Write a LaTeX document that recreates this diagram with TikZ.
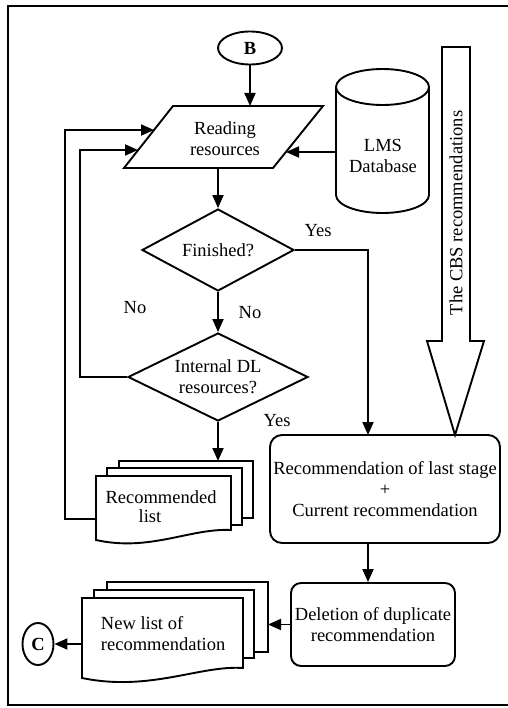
\documentclass[tikz,border=0pt]{standalone}
\usepackage{fontspec}
\setmainfont{Liberation Serif}
\usetikzlibrary{shapes.geometric,arrows.meta,calc}
\begin{document}
\begin{tikzpicture}[x=1pt,y=-1pt,
  line width=1.9pt, line join=miter,
  every node/.style={font=\fontsize{18.5}{21}\selectfont, inner sep=0pt},
  arr/.style={-{Triangle[length=13pt,width=11pt]}},
  decision/.style={draw, diamond, align=center},
  procbox/.style={draw, rounded corners=#1, align=center},
  docshape/.style={draw, fill=white},
  lbl/.style={}
]
\useasboundingbox (0,0) rectangle (507,708);
% frame
\draw (512,6) -- (8,6) -- (8,705) -- (512,705);

% B connector
\node[draw, ellipse, minimum width=64, minimum height=33, font=\fontsize{18.5}{21}\selectfont\bfseries] (B) at (250,48) {B};

% Reading resources (parallelogram)
\draw (173,106) -- (323,106) -- (273,168) -- (124,168) -- cycle;
\node[align=center] (read) at (225,139) {Reading\\resources};
\coordinate (readtop) at (250,106);
\coordinate (readbot) at (218,168);
\coordinate (readL1) at (154,130);
\coordinate (readL2) at (138,150);
\coordinate (readR) at (286,152);

% LMS database cylinder
\draw (336,87) -- (336,195) arc[start angle=180, end angle=360, x radius=46.5pt, y radius=18pt] -- (429,87);
\draw (382.5,87) ellipse [x radius=46.5pt, y radius=18pt];
\node[align=center] (lms) at (383,156) {LMS\\Database};
\coordinate (lmsL) at (336,152);

% big hollow arrow
\draw (442,47) -- (470,47) -- (470,341) -- (484,341) -- (455,435) -- (427,341) -- (442,341) -- cycle;
\node[rotate=90] (cbs) at (456,213) {The CBS recommendations};

% decisions
\node[decision, aspect=1.85, minimum width=152, minimum height=82] (fin) at (218,250) {Finished?};
\node[decision, aspect=2.05, minimum width=180, minimum height=88] (int) at (218,377) {Internal DL\\resources?};

% labels
\node[lbl] (yes1) at (318,231) {Yes};
\node[lbl] (no1) at (135,308) {No};
\node[lbl] (no2) at (250,313) {No};
\node[lbl] (yes2) at (277,421) {Yes};

% Recommended list (multi-document)
\draw[docshape] (119,461) rectangle (253,518);
\draw[docshape] (107,468) rectangle (242,525);
\draw[docshape] (96,476) -- (231,476) -- (231,530) .. controls (190,528) and (150,552) .. (96,540) -- cycle;
\node (rltxt1) at (161,497) {Recommended};
\node (rltxt2) at (150,516) {list};
\coordinate (rlTop) at (218,461);
\coordinate (rlL) at (96,519);

% Recommendation box
\node[procbox=12, minimum width=230, minimum height=108] (rec) at (385,489)
  {Recommendation of last stage\\+\\Current recommendation};
\coordinate (recYes) at (368,435);

% Deletion box
\node[procbox=10, minimum width=164, minimum height=83] (del) at (373,624.5)
  {Deletion of duplicate\\recommendation};

% New list (multi-document)
\draw[docshape] (107,582) rectangle (268,652);
\draw[docshape] (94,590) rectangle (254,658);
\draw[docshape] (82,598) -- (243,598) -- (243,668) .. controls (200,665) and (150,692) .. (82,678) -- cycle;
\node[align=left, anchor=west] (nltxt) at (100,633.5) {New list of\\recommendation};
\coordinate (nlR) at (268,624.5);
\coordinate (nlL) at (82,644);

% C connector
\node[draw, ellipse, minimum width=31, minimum height=42, font=\fontsize{18.5}{21}\selectfont\bfseries] (C) at (38,644) {C};

% connectors
\draw[arr] (B.south) -- (readtop);
\draw[arr] (lmsL) -- (readR);
\draw[arr] (readbot) -- (fin.north);
\draw[arr] (fin.south) -- (int.north);
\draw[arr] (fin.east) -| (recYes);
\draw[arr] (int.south) -- (rlTop);
\draw[arr] (int.west) -- ++(-47,0) |- (readL2);
\draw[arr] (rlL) -- ++(-31,0) |- (readL1);
\draw[arr] ($(rec.south)+(-17,0)$) -- ($(del.north)+(-5,0)$);
\draw[arr] (del.west) -- (nlR);
\draw[arr] (nlL) -- (C.east);
\end{tikzpicture}
\end{document}
